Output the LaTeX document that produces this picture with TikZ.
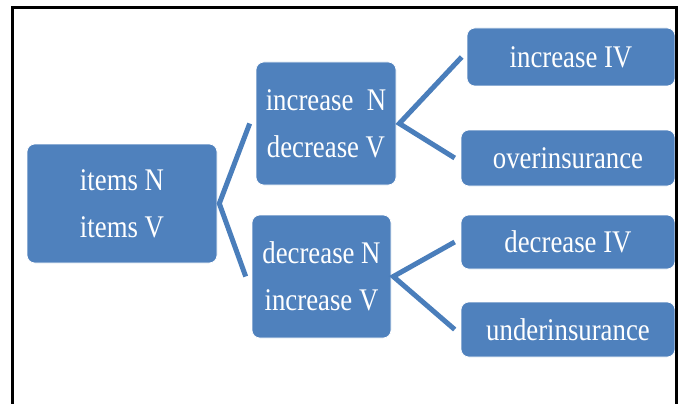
\documentclass[tikz,border=0pt]{standalone}
\usepackage{fontspec}
\setmainfont{Liberation Serif}[FakeStretch=0.85]
\usetikzlibrary{calc}
\definecolor{boxblue}{HTML}{4F81BD}
\definecolor{lineblue}{HTML}{4A7EBB}
\tikzset{
  blubox/.style={fill=boxblue, draw=white, line width=0.6pt, rounded corners=8pt,
    inner sep=0pt, anchor=center, align=center, text=white,
    font={\fontsize{31.5}{47}\selectfont}},
  conn/.style={draw=lineblue, line width=5pt, line join=miter}
}
\begin{document}
\begin{tikzpicture}[x=1pt,y=-1pt]
\useasboundingbox (0,0) rectangle (678,404);
% boxes
\node[blubox, minimum width=190pt, minimum height=119pt] (items) at (122,203.5) {items N\\items V};
\node[blubox, minimum width=140pt, minimum height=123pt] (incN) at (326,123.5) {increase\ \ N\\decrease V};
\node[blubox, minimum width=139pt, minimum height=123pt] (decN) at (321.5,276.5) {decrease N\\increase V};
\node[blubox, minimum width=208pt, minimum height=58pt] (incIV) at (571,57) {increase IV};
\node[blubox, minimum width=214pt, minimum height=56pt] (over) at (568,158) {overinsurance};
\node[blubox, minimum width=214pt, minimum height=54pt] (decIV) at (568,242) {decrease IV};
\node[blubox, minimum width=214pt, minimum height=55pt] (under) at (568,329.5) {underinsurance};
% connectors
\draw[conn] ($(incN.west)+(-6,0)$) -- ($(items.east)+(2,0)$) -- ($(decN.west)+(-6,0)$);
\draw[conn] ($(incIV.west)+(-5,0)$) -- ($(incN.east)+(3,0)$) -- ($(over.west)+(-6,0)$);
\draw[conn] ($(decIV.west)+(-6,0)$) -- ($(decN.east)+(2,0)$) -- ($(under.west)+(-6,0)$);
% frame
\draw[line width=3pt] (12,404) -- (12,8) -- (676.5,8) -- (676.5,404);
\end{tikzpicture}
\end{document}
